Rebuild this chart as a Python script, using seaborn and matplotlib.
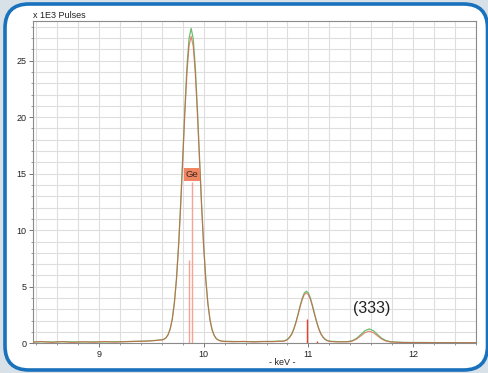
import numpy as np
import pandas as pd
import matplotlib
matplotlib.use("Agg")
import matplotlib.pyplot as plt
import seaborn as sns
from matplotlib.patches import FancyBboxPatch
from matplotlib.ticker import MultipleLocator

# ---- data ----
energy_kev = [
    8.37, 8.45, 8.55, 8.65, 8.75, 8.85, 8.95, 9.05, 9.15, 9.25, 9.35, 9.45, 9.52,
    9.56, 9.58, 9.60, 9.62, 9.64, 9.66, 9.68, 9.70, 9.72, 9.74, 9.76, 9.78, 9.80,
    9.82, 9.84, 9.86, 9.88, 9.90, 9.92, 9.94, 9.96, 9.98, 10.00, 10.02, 10.04,
    10.06, 10.08, 10.10, 10.12, 10.14, 10.16, 10.18, 10.20,
    10.28, 10.38, 10.48, 10.58, 10.66, 10.72,
    10.76, 10.78, 10.80, 10.82, 10.84, 10.86, 10.88, 10.90, 10.92, 10.94, 10.96,
    10.98, 11.00, 11.02, 11.04, 11.06, 11.08, 11.10, 11.12, 11.14, 11.16, 11.18,
    11.20, 11.22,
    11.28, 11.34,
    11.38, 11.42, 11.46, 11.50, 11.54, 11.58, 11.62, 11.66, 11.70, 11.74, 11.78, 11.82,
    11.90, 12.00, 12.10, 12.20, 12.30, 12.40, 12.50, 12.60,
]
green_counts = [
    0.12, 0.13, 0.12, 0.14, 0.13, 0.12, 0.13, 0.12, 0.14, 0.15, 0.17, 0.20, 0.24,
    0.28, 0.29, 0.31, 0.36, 0.49, 0.77, 1.28, 2.17, 3.62, 5.76, 8.70, 12.38, 16.56,
    20.78, 24.45, 26.96, 27.85, 26.93, 24.40, 20.71, 16.49, 12.31, 8.63, 5.69, 3.55,
    2.10, 1.21, 0.70, 0.42, 0.29, 0.22, 0.19, 0.18,
    0.16, 0.15, 0.15, 0.16, 0.17, 0.19,
    0.20, 0.25, 0.36, 0.54, 0.83, 1.27, 1.86, 2.56, 3.30, 3.97, 4.44,
    4.61, 4.44, 3.97, 3.30, 2.56, 1.86, 1.27, 0.83, 0.54, 0.36, 0.25,
    0.20, 0.17,
    0.15, 0.14,
    0.15, 0.24, 0.44, 0.77, 1.12, 1.27, 1.12, 0.77, 0.44, 0.24, 0.15, 0.12,
    0.08, 0.07, 0.07, 0.06, 0.06, 0.06, 0.05, 0.05,
]
red_counts = [
    0.10, 0.16, 0.08, 0.15, 0.07, 0.14, 0.09, 0.16, 0.10, 0.14, 0.18, 0.19, 0.23,
    0.26, 0.30, 0.28, 0.35, 0.48, 0.76, 1.26, 2.13, 3.54, 5.62, 8.49, 12.08, 16.15,
    20.27, 23.85, 26.29, 27.15, 26.26, 23.80, 20.20, 16.08, 12.01, 8.42, 5.55, 3.47,
    2.05, 1.19, 0.69, 0.41, 0.28, 0.21, 0.17, 0.16,
    0.13, 0.17, 0.11, 0.16, 0.14, 0.18,
    0.17, 0.24, 0.33, 0.52, 0.80, 1.23, 1.80, 2.48, 3.19, 3.84, 4.29,
    4.46, 4.29, 3.84, 3.19, 2.48, 1.80, 1.23, 0.80, 0.52, 0.33, 0.23,
    0.17, 0.15,
    0.12, 0.13,
    0.13, 0.20, 0.37, 0.65, 0.94, 1.07, 0.94, 0.65, 0.37, 0.20, 0.12, 0.10,
    0.07, 0.06, 0.06, 0.05, 0.05, 0.05, 0.05, 0.05,
]
line_energy = [9.855, 9.886, 10.982, 11.08]
line_height = [7.35, 14.3, 2.18, 0.2]
line_colors = ["#f5a393", "#f5a393", "#e4402b", "#e4402b"]
x_ticks = [9, 10, 11, 12]
y_ticks = [0, 5, 10, 15, 20, 25]

df = pd.DataFrame({"keV": energy_kev, "green": green_counts, "red": red_counts})

# ---- figure ----
sns.set_theme(style="white")
plt.rcParams["font.family"] = ["Liberation Sans", "DejaVu Sans"]

W, H = 489, 373
fig = plt.figure(figsize=(W / 100, H / 100), dpi=100)
fig.patch.set_facecolor("#d8e0e8")

# rounded white panel with blue border
x0, x1 = 5 / 100, 487.5 / 100
y0, y1 = (H - 370) / 100, (H - 4) / 100
panel = FancyBboxPatch((x0, y0), x1 - x0, y1 - y0,
                       boxstyle="round,pad=0,rounding_size=0.24",
                       transform=fig.dpi_scale_trans,
                       facecolor="white", edgecolor="#1a72bd", linewidth=2.6,
                       zorder=-10)
fig.patches.append(panel)

ax = fig.add_axes([33 / W, (H - 343.3) / H, (476 - 33) / W, (343.3 - 21) / H])
ax.set_zorder(1)
ax.set_facecolor("white")

sns.lineplot(data=df, x="keV", y="green", ax=ax, color="#6dbd6d",
             linewidth=0.9, zorder=3)
sns.lineplot(data=df, x="keV", y="red", ax=ax, color="#d9533d",
             linewidth=0.8, alpha=0.7, zorder=4)
ax.vlines(line_energy, 0, line_height, colors=line_colors, linewidth=1.0, zorder=5)

ax.text(9.886, 14.95, "Ge", ha="center", va="center", fontsize=6.8,
        color="#3a2a20", zorder=6,
        bbox=dict(boxstyle="square,pad=0.2", facecolor="#f08562",
                  edgecolor="none"))
ax.text(11.6, 3.1, "(333)", ha="center", va="center", fontsize=11.5,
        color="#222222", zorder=6)

ax.set_xlim(8.37, 12.6)
ax.set_ylim(0, 28.5)
ax.set_xticks(x_ticks)
ax.set_yticks(y_ticks)
ax.xaxis.set_minor_locator(MultipleLocator(0.2))
ax.yaxis.set_minor_locator(MultipleLocator(1))
ax.grid(True, which="both", color="#dedede", linewidth=0.8, zorder=0)
ax.set_axisbelow(True)

ax.tick_params(axis="both", which="major", direction="out", length=3,
               width=0.7, color="#777777", labelsize=6.5, pad=1.5,
               labelcolor="#222222")
ax.tick_params(axis="both", which="minor", direction="out", length=1.6,
               width=0.6, color="#888888")
ax.tick_params(bottom=True, left=True, which="both")
for s in ax.spines.values():
    s.set_color("#8a8a8a")
    s.set_linewidth(0.8)

ax.set_xlabel("- keV -", fontsize=6.5, color="#222222")
ax.xaxis.set_label_coords(0.562, -0.045)
ax.set_ylabel("")
fig.text(33 / W, (H - 16) / H, "x 1E3 Pulses", ha="left", va="center",
         fontsize=6.5, color="#222222")

fig.savefig("out.png", dpi=100, facecolor=fig.get_facecolor())
